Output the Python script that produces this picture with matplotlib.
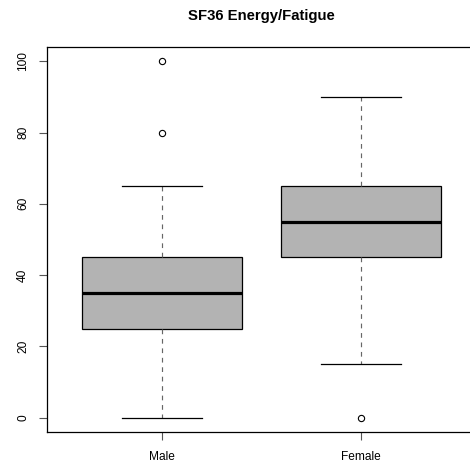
import matplotlib.pyplot as plt

# SF36 Energy/Fatigue 箱线图（按性别）
groups = ['Male', 'Female']
whislo = [0, 15]
q1 = [25, 45]
med = [35, 55]
q3 = [45, 65]
whishi = [65, 90]
fliers = [[80, 100], [0]]
yticks = [0, 20, 40, 60, 80, 100]

plt.rcParams['font.family'] = ['Liberation Sans', 'DejaVu Sans']

stats = []
for i in range(len(groups)):
    stats.append({'label': groups[i], 'whislo': whislo[i], 'q1': q1[i], 'med': med[i],
                  'q3': q3[i], 'whishi': whishi[i], 'fliers': fliers[i]})

fig = plt.figure(figsize=(4.70, 4.66), dpi=100)
# 右边框落在图片外面（原图被裁掉了）
ax = fig.add_axes([46.6 / 470, 34 / 466, 433.4 / 470, 385 / 466])

ax.bxp(stats, positions=[1, 2], widths=0.8, patch_artist=True,
       boxprops=dict(facecolor='#b3b3b3', edgecolor='black', linewidth=0.9),
       medianprops=dict(color='black', linewidth=2.3, solid_capstyle='butt'),
       whiskerprops=dict(color='#666666', linewidth=0.85, linestyle=(0, (4, 4))),
       capprops=dict(color='black', linewidth=0.9),
       capwidths=0.4,
       flierprops=dict(marker='o', markersize=4.5, markerfacecolor='none',
                       markeredgecolor='black', markeredgewidth=0.8))

ax.set_xlim(0.42, 2.598)
ax.set_ylim(-4, 104)
ax.set_yticks(yticks)
ax.set_yticklabels([str(v) for v in yticks], rotation=90, va='center')
ax.set_xticks([1, 2])
ax.set_xticklabels(groups)
ax.tick_params(axis='both', direction='out', length=5.5, width=0.8, labelsize=8.6,
               color='#555555')
ax.tick_params(axis='y', pad=7)
ax.tick_params(axis='x', pad=8)
for s in ax.spines.values():
    s.set_linewidth(0.9)
ax.spines['right'].set_visible(False)

fig.text(261 / 470, 1 - 16 / 466, 'SF36 Energy/Fatigue', ha='center', va='center',
         fontsize=10.7, fontweight='bold')

plt.savefig('out.png', dpi=100)
plt.close()
